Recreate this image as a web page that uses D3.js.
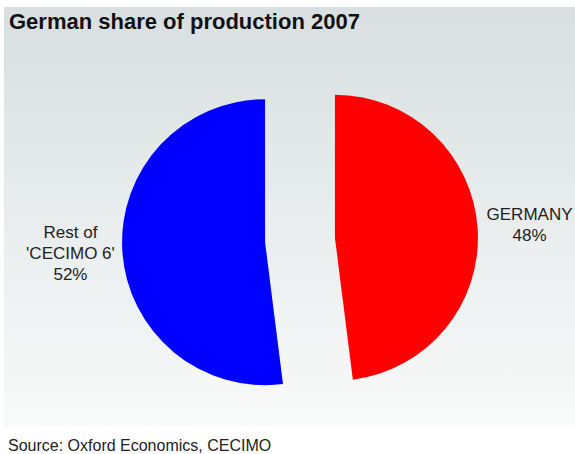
<!DOCTYPE html>
<html lang="en">
<head>
<meta charset="UTF-8">
<title>German share of production 2007</title>
<style>
    body { margin:0; background:#fff; }
    svg text { font-family: "Liberation Sans", Arial, sans-serif; }
</style>
</head>
<body>
<script src="https://cdn.jsdelivr.net/npm/d3@7/dist/d3.min.js"></script>
<script>
    // data
    var categories = ["GERMANY", "Rest of 'CECIMO 6'"];
    var shares = [48, 52];
    var colours = ["#ff0000", "#0000ff"];

    var w = 575, h = 454;
    var cx = 300, cy = 240;
    var radius = 143;
    var explode = 35;   // gap pulled out along the middle angle
    var labelR = 195;

    var svg = d3.select("body").append("svg").attr("width", w).attr("height", h);

    var grad = svg.append("defs").append("linearGradient")
        .attr("id", "bg").attr("x1", 0).attr("y1", 0).attr("x2", 0).attr("y2", 1);
    grad.append("stop").attr("offset", "0%").attr("stop-color", "#d8dfe0");
    grad.append("stop").attr("offset", "100%").attr("stop-color", "#f9fafa");

    svg.append("rect").attr("x", 4).attr("y", 7).attr("width", w - 4).attr("height", 420)
        .attr("fill", "url(#bg)");

    svg.append("text").attr("x", 9).attr("y", 29)
        .attr("font-size", "22px").attr("font-weight", "bold").attr("fill", "#111")
        .text("German share of production 2007");

    var pie = d3.pie().sort(null).startAngle(0).endAngle(2 * Math.PI);
    var arcs = pie(shares);
    var arc = d3.arc().innerRadius(0).outerRadius(radius);

    function dir(d) {
        var a = (d.startAngle + d.endAngle) / 2;
        return [Math.sin(a), -Math.cos(a)];
    }

    svg.selectAll("path.slice")
        .data(arcs)
        .enter()
        .append("path")
        .attr("class", "slice")
        .attr("d", arc)
        .attr("fill", function (d, i) { return colours[i]; })
        .attr("transform", function (d) {
            var v = dir(d);
            return "translate(" + (cx + v[0] * explode) + "," + (cy + v[1] * explode) + ")";
        });

    var lh = 21;
    var labels = svg.selectAll("text.lbl")
        .data(arcs)
        .enter()
        .append("text")
        .attr("class", "lbl")
        .attr("text-anchor", "middle")
        .attr("font-size", "17px")
        .attr("fill", "#222");

    labels.each(function (d, i) {
        var v = dir(d);
        var x = cx + v[0] * (explode + labelR);
        var y = cy + v[1] * (explode + labelR);
        var name = categories[i];
        var lines = name.indexOf("Rest of") === 0 ? ["Rest of", name.slice(8)] : [name];
        lines.push(shares[i] + "%");
        var n = lines.length;
        d3.select(this).selectAll("tspan")
            .data(lines)
            .enter()
            .append("tspan")
            .attr("x", x)
            .attr("y", function (t, k) { return y + (k - (n - 1) / 2) * lh + 5; })
            .text(function (t) { return t; });
    });

    svg.append("text").attr("x", 8).attr("y", 451)
        .attr("font-size", "16px").attr("fill", "#222")
        .text("Source: Oxford Economics, CECIMO");
</script>
</body>
</html>
